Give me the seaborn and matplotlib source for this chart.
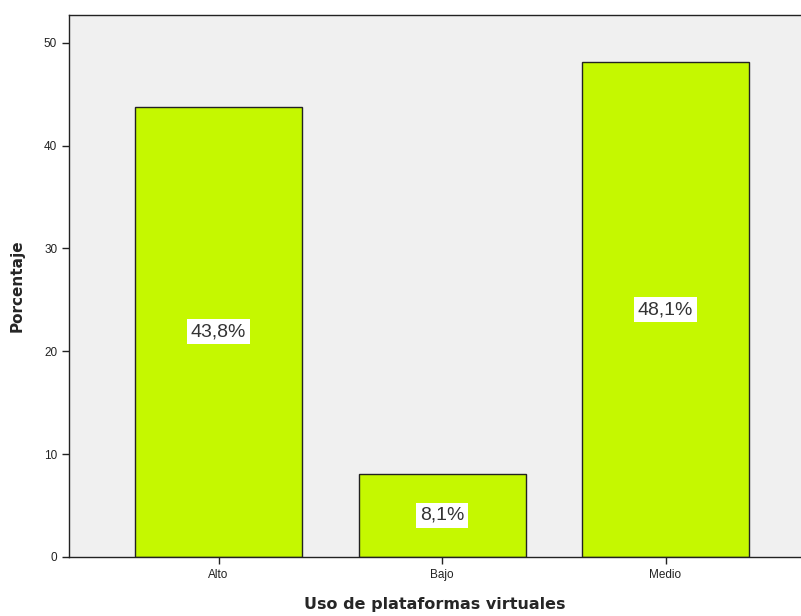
import matplotlib
matplotlib.use("Agg")
import matplotlib.pyplot as plt
import seaborn as sns
import pandas as pd

# data
categorias = ["Alto", "Bajo", "Medio"]
porcentajes = [43.8, 8.1, 48.1]
etiquetas = ["43,8%", "8,1%", "48,1%"]

data = pd.DataFrame({"Uso de plataformas virtuales": categorias, "Porcentaje": porcentajes})

sns.set_style("ticks")
plt.rcParams["font.family"] = ["Liberation Sans", "DejaVu Sans"]

fig = plt.figure(figsize=(8.01, 6.16), dpi=100)
ax = fig.add_axes([0.0861, 0.0958, 0.9139, 0.8798])
ax.set_facecolor("#f0f0f0")

sns.barplot(data=data, x="Uso de plataformas virtuales", y="Porcentaje",
            color="#c5f800", saturation=1, edgecolor="#222222", linewidth=1.0,
            width=0.747, ax=ax)

# labels in white boxes at half height of each bar
for i, (v, t) in enumerate(zip(porcentajes, etiquetas)):
    ax.text(i, v / 2, t, ha="center", va="center", fontsize=14, color="#333333",
            bbox=dict(facecolor="white", edgecolor="none", pad=3))

ax.set_xlim(-0.669, 2.606)
ax.set_ylim(0, 52.7)
ax.set_yticks([0, 10, 20, 30, 40, 50])

for s in ["left", "bottom", "top"]:
    ax.spines[s].set_color("#222222")
    ax.spines[s].set_linewidth(1.0)
ax.spines["right"].set_visible(False)

ax.tick_params(axis="both", direction="out", length=5, width=1, color="#222222",
               labelsize=8.5, labelcolor="#222222")
ax.set_xlabel("Uso de plataformas virtuales", fontsize=11.5, fontweight="bold",
              family="DejaVu Sans", labelpad=12)
ax.set_ylabel("Porcentaje", fontsize=11, fontweight="bold", family="DejaVu Sans",
              labelpad=14)

fig.savefig("out.png", dpi=100)
